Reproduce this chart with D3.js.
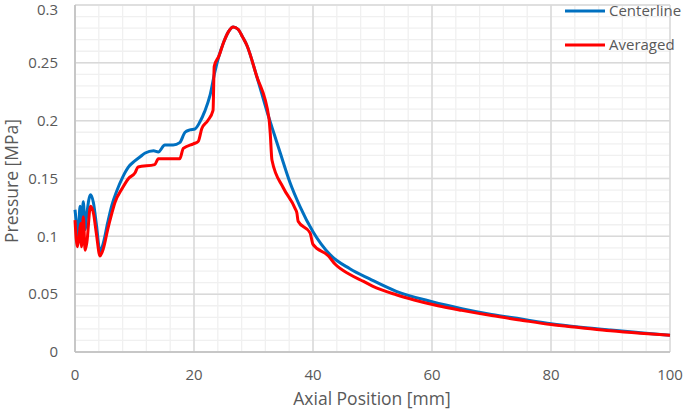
<!DOCTYPE html>
<html><head><meta charset="utf-8">
<script src="https://cdn.jsdelivr.net/npm/d3@7"></script>
<style>body{margin:0;background:#fff}svg text{font-family:"Open Sans","Liberation Sans",sans-serif;fill:#595959}</style>
</head><body><svg id="c" width="685" height="410"></svg>
<script>
const xTicks = [0,20,40,60,80,100];
const yTicks = [0,0.05,0.1,0.15,0.2,0.25,0.3];
const yTickLabels = ["0","0.05","0.1","0.15","0.2","0.25","0.3"];
const seriesNames = ["Centerline","Averaged"];
const colors = ["#0070C0","#FF0000"];

const centerX = [0,0.3,0.55,0.84,1.1,1.4,1.7,2.0,2.6,3.1,3.6,4.2,4.8,5.5,6.2,7.0,8.0,9.0,10.0,11.0,11.8,13.2,14.0,15.1,16.5,17.6,18.5,19.3,20.2,21.0,21.8,22.7,23.5,24.2,25.0,25.8,26.6,27.4,28.2,28.9,30.5,32.5,33.5,34.5,36.1,37.8,40.0,42.9,46.2,49.6,54,60,65,70,75,80,85,90,95,100];
const centerP = [0.123,0.109,0.100,0.126,0.110,0.130,0.106,0.120,0.136,0.129,0.110,0.087,0.095,0.112,0.127,0.139,0.151,0.160,0.165,0.169,0.172,0.174,0.173,0.179,0.179,0.181,0.190,0.192,0.193,0.199,0.208,0.222,0.242,0.256,0.268,0.277,0.281,0.279,0.272,0.265,0.239,0.204,0.188,0.172,0.147,0.126,0.104,0.084,0.072,0.063,0.0525,0.0435,0.0375,0.0325,0.0285,0.0245,0.0215,0.019,0.0167,0.0145];

const avgX = [0,0.4,0.7,0.95,1.1,1.4,1.7,2.0,2.6,3.1,3.6,4.2,4.8,5.5,6.2,6.7,8.0,9.0,10.1,10.6,13.4,14.0,17.6,18.2,19.9,20.7,21.3,22.3,23.2,23.4,24.2,25.0,25.8,26.6,27.4,28.2,28.9,30.5,32.6,32.8,33.1,35.0,37.0,37.3,37.5,39.5,40.0,42.6,43.7,46.2,48.5,50,54,57,61,65,70,75,80,85,90,95,100];
const avgP = [0.114,0.091,0.100,0.111,0.091,0.117,0.088,0.095,0.126,0.120,0.102,0.083,0.090,0.106,0.120,0.129,0.142,0.150,0.155,0.160,0.162,0.167,0.167,0.176,0.180,0.182,0.193,0.200,0.209,0.247,0.256,0.268,0.277,0.281,0.279,0.272,0.265,0.239,0.202,0.190,0.166,0.142,0.124,0.120,0.113,0.103,0.093,0.083,0.076,0.067,0.061,0.057,0.0495,0.045,0.040,0.036,0.0315,0.0275,0.0237,0.021,0.0183,0.0162,0.0145];

const svg = d3.select("#c");
const L=75,R=670,T=5,B=352;
const x = d3.scaleLinear().domain([0,100]).range([L,R]);
const y = d3.scaleLinear().domain([0,0.3]).range([B,T]);

const g = svg.append("g");
g.selectAll(".mx").data(d3.range(0,101,4)).join("line")
 .attr("x1",d=>x(d)).attr("x2",d=>x(d)).attr("y1",T).attr("y2",B)
 .attr("stroke","#f0f0f0").attr("stroke-width",1.3);
g.selectAll(".my").data(d3.range(0,31,1).map(d=>d/100)).join("line")
 .attr("y1",d=>y(d)).attr("y2",d=>y(d)).attr("x1",L).attr("x2",R)
 .attr("stroke","#f0f0f0").attr("stroke-width",1.3);
g.selectAll(".Mx").data(xTicks).join("line")
 .attr("x1",d=>x(d)).attr("x2",d=>x(d)).attr("y1",T).attr("y2",B)
 .attr("stroke","#d9d9d9").attr("stroke-width",1.5);
g.selectAll(".My").data(yTicks).join("line")
 .attr("y1",d=>y(d)).attr("y2",d=>y(d)).attr("x1",L).attr("x2",R)
 .attr("stroke","#d9d9d9").attr("stroke-width",1.5);
g.append("line").attr("x1",L).attr("x2",L).attr("y1",T).attr("y2",B).attr("stroke","#bfbfbf").attr("stroke-width",1.5);
g.append("line").attr("x1",L).attr("x2",R).attr("y1",B).attr("y2",B).attr("stroke","#bfbfbf").attr("stroke-width",1.5);

g.selectAll(".yl").data(yTicks).join("text")
 .attr("x",58).attr("y",d=>Math.max(y(d),10)).attr("dy","0.35em").attr("text-anchor","end")
 .attr("font-size",15).text((d,i)=>yTickLabels[i]);
g.selectAll(".xl").data(xTicks).join("text")
 .attr("x",d=>x(d)).attr("y",375).attr("dy","0.35em").attr("text-anchor","middle")
 .attr("font-size",15).text(d=>d);
svg.append("text").attr("x",372).attr("y",399).attr("dy","0.35em").attr("text-anchor","middle")
 .attr("font-size",17.5).text("Axial Position [mm]");
svg.append("text").attr("transform","translate(12,181) rotate(-90)").attr("dy","0.35em").attr("text-anchor","middle")
 .attr("font-size",17.5).text("Pressure [MPa]");

const line = d3.line().x(d=>x(d[0])).y(d=>y(d[1])).curve(d3.curveMonotoneX);
const cData = centerX.map((v,i)=>[v,centerP[i]]);
const aData = avgX.map((v,i)=>[v,avgP[i]]);
svg.append("path").attr("d",line(cData)).attr("fill","none").attr("stroke",colors[0]).attr("stroke-width",3).attr("stroke-linejoin","round");
svg.append("path").attr("d",line(aData)).attr("fill","none").attr("stroke",colors[1]).attr("stroke-width",3).attr("stroke-linejoin","round");

const leg = svg.append("g");
[11,45].forEach((ly,i)=>{
  leg.append("line").attr("x1",565).attr("x2",605).attr("y1",ly).attr("y2",ly).attr("stroke",colors[i]).attr("stroke-width",3);
  leg.append("text").attr("x",609).attr("y",ly).attr("dy","0.35em").attr("font-size",15).text(seriesNames[i]);
});
</script></body></html>
